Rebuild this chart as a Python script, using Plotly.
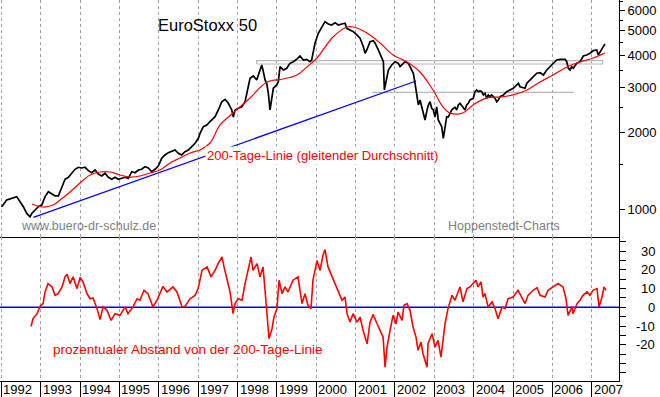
import plotly.graph_objects as go
import pandas as pd
import numpy as np

# ---------------- data (decimal years, index points / percent) ----------------
price_t = [1992.009, 1992.136, 1992.263, 1992.390, 1992.474, 1992.558, 1992.644, 1992.728,
           1992.771, 1992.855, 1992.939, 1993.025, 1993.109, 1993.193, 1993.279, 1993.363,
           1993.447, 1993.534, 1993.617, 1993.701, 1993.788, 1993.871, 1993.955, 1994.042,
           1994.126, 1994.209, 1994.296, 1994.380, 1994.463, 1994.550, 1994.634, 1994.718,
           1994.804, 1994.888, 1994.972, 1995.058, 1995.142, 1995.226, 1995.312, 1995.396,
           1995.480, 1995.566, 1995.650, 1995.734, 1995.820, 1995.904, 1995.988, 1996.074,
           1996.158, 1996.242, 1996.328, 1996.412, 1996.496, 1996.582, 1996.666, 1996.750,
           1996.836, 1996.920, 1997.004,
           1997.047, 1997.131, 1997.218, 1997.301, 1997.428, 1997.512, 1997.599, 1997.683,
           1997.766, 1997.810, 1997.853, 1997.893, 1997.937, 1998.020, 1998.107, 1998.191,
           1998.274, 1998.318, 1998.402, 1998.488, 1998.572, 1998.615, 1998.656, 1998.699,
           1998.742, 1998.783, 1998.826, 1998.869, 1998.910, 1998.996, 1999.037, 1999.080,
           1999.164, 1999.250, 1999.334, 1999.418, 1999.504, 1999.588, 1999.672, 1999.758,
           1999.842, 1999.885, 1999.926, 1999.969, 2000.053, 2000.139, 2000.223, 2000.307,
           2000.393, 2000.477, 2000.561, 2000.648, 2000.731, 2000.775, 2000.858, 2000.942,
           2001.029, 2001.112, 2001.196, 2001.240, 2001.283, 2001.323, 2001.367, 2001.450,
           2001.494, 2001.577, 2001.664, 2001.705, 2001.730, 2001.773, 2001.832, 2001.918,
           2002.002, 2002.086,
           2002.129, 2002.213, 2002.256, 2002.340, 2002.383, 2002.467, 2002.510, 2002.553,
           2002.594, 2002.637, 2002.680, 2002.720, 2002.764, 2002.807, 2002.848, 2002.891,
           2002.934, 2002.975, 2003.018, 2003.061, 2003.101, 2003.145, 2003.188, 2003.229,
           2003.272, 2003.315, 2003.356, 2003.399, 2003.442, 2003.483, 2003.526, 2003.569,
           2003.610, 2003.653, 2003.696, 2003.737, 2003.780, 2003.823, 2003.864, 2003.907,
           2003.991, 2004.034, 2004.077, 2004.118, 2004.161, 2004.204, 2004.245, 2004.288,
           2004.331, 2004.372, 2004.415, 2004.458, 2004.542, 2004.585, 2004.626, 2004.669,
           2004.753, 2004.839, 2004.923, 2005.007, 2005.094, 2005.134, 2005.177, 2005.261,
           2005.305, 2005.348, 2005.432, 2005.516, 2005.602, 2005.686, 2005.770, 2005.856,
           2005.940, 2006.024, 2006.110, 2006.194, 2006.321, 2006.364, 2006.405, 2006.448,
           2006.491, 2006.532, 2006.618, 2006.702, 2006.786, 2006.872, 2006.956, 2007.040,
           2007.126, 2007.166, 2007.210, 2007.294, 2007.337]
price_v = [1024, 1087, 1104, 1121, 1071, 1024, 964, 935,
           964, 994, 1024, 1039, 1121, 1172, 1148, 1128,
           1128, 1209, 1311, 1335, 1391, 1435, 1461, 1452,
           1461, 1417, 1391, 1426, 1375, 1351, 1384, 1335,
           1311, 1335, 1311, 1322, 1335, 1322, 1404, 1391,
           1426, 1435, 1469, 1452, 1404, 1435, 1478, 1584,
           1633, 1667, 1682, 1708, 1658, 1633, 1682, 1708,
           1760, 1814, 1898,
           1985, 2107, 2140, 2204, 2306, 2450, 2640, 2698,
           2603, 2523, 2450, 2298, 2450, 2487, 2523, 2640,
           3023, 3261, 3329, 3212, 3515, 3677, 3461, 3212,
           3117, 2848, 2450, 2762, 2980, 3070, 3162, 3622,
           3515, 3569, 3733, 3788, 3870, 3988, 3846, 3870,
           3788, 3846, 4210, 4474, 4895, 5194, 5435, 5323,
           5275, 5386, 5275, 5323, 5356, 5119, 5043, 4966,
           4820, 4679, 4337, 4087, 4210, 4337, 4537, 4579,
           4474, 4210, 3906, 3788, 2935, 3212, 3515, 3677,
           3788, 3733,
           3622, 3733, 3788, 3733, 3622, 3412, 3117, 2762,
           2563, 2682, 2523, 2378, 2239, 2413, 2563, 2640,
           2487, 2450, 2298, 2523, 2239, 2173, 2107, 1898,
           2107, 2306, 2298, 2378, 2450, 2487, 2510, 2450,
           2563, 2603, 2540, 2487, 2450, 2563, 2603, 2682,
           2722, 2889, 2935, 2889, 2916, 2889, 2806, 2848,
           2722, 2806, 2762, 2806, 2722, 2640, 2682, 2762,
           2806, 2889, 2935, 2980, 3070, 3117, 3023, 2980,
           2980, 3117, 3212, 3308, 3412, 3430, 3359, 3515,
           3622, 3733, 3846, 3870, 3870, 3788, 3569, 3515,
           3622, 3569, 3733, 3788, 3988, 4024, 4087, 4184,
           4210, 4024, 4146, 4337, 4445]

ma_t = [1992.779, 1993.058, 1993.313, 1993.490, 1993.744, 1993.999, 1994.253, 1994.507,
        1994.761, 1995.015, 1995.269, 1995.523, 1995.777, 1996.031, 1996.285, 1996.539,
        1996.793, 1997.047, 1997.301, 1997.556, 1997.886, 1998.318, 1998.750, 1999.156,
        1999.512, 1999.766, 2000.020, 2000.426, 2000.782, 2000.935, 2001.290, 2001.621,
        2001.951, 2002.307, 2002.637, 2002.967, 2003.221, 2003.399, 2003.729, 2003.983,
        2004.339, 2004.669, 2005.000, 2005.355, 2005.686, 2006.016, 2006.372, 2006.702,
        2007.032, 2007.337]
ma_v = [1049, 1021, 1039, 1087, 1169, 1268, 1363, 1400,
        1400, 1363, 1338, 1351, 1388, 1426, 1519, 1589,
        1663, 1708, 1819, 2140, 2385, 2731, 3154, 3241,
        3359, 3611, 3917, 4735, 5181, 5181, 4908, 4485,
        4024, 3778, 3451, 2935, 2518, 2385, 2385, 2563,
        2731, 2755, 2806, 2935, 3154, 3359, 3611, 3778,
        3917, 4097]

dev_t = [1992.754, 1992.804, 1992.906, 1992.982, 1993.058, 1993.109, 1993.185, 1993.287,
         1993.363, 1993.440, 1993.541, 1993.617, 1993.668, 1993.744, 1993.821, 1993.922,
         1993.999, 1994.075, 1994.176, 1994.253, 1994.329, 1994.430, 1994.507, 1994.583,
         1994.685, 1994.786, 1994.888, 1995.015, 1995.142, 1995.218, 1995.345, 1995.447,
         1995.523, 1995.625, 1995.726, 1995.853, 1995.955, 1996.031, 1996.107, 1996.209,
         1996.361, 1996.463, 1996.590, 1996.666, 1996.793, 1996.920, 1996.997, 1997.098,
         1997.225, 1997.327, 1997.428, 1997.505, 1997.606, 1997.657, 1997.733, 1997.810,
         1997.886, 1997.937, 1998.013, 1998.114, 1998.191, 1998.267, 1998.343, 1998.394,
         1998.496, 1998.572, 1998.648, 1998.699, 1998.750, 1998.800, 1998.877, 1998.927,
         1999.004, 1999.055, 1999.131, 1999.207, 1999.283, 1999.410, 1999.537, 1999.639,
         1999.715, 1999.791, 1999.868, 1999.918, 2000.020, 2000.096, 2000.172, 2000.223,
         2000.299, 2000.401, 2000.477, 2000.554, 2000.655, 2000.731, 2000.782, 2000.858,
         2000.935, 2001.036, 2001.112, 2001.189, 2001.290, 2001.367, 2001.443, 2001.544,
         2001.621, 2001.697, 2001.748, 2001.798, 2001.875, 2001.951, 2002.027, 2002.078,
         2002.180, 2002.230, 2002.307, 2002.383, 2002.459, 2002.535, 2002.586, 2002.662,
         2002.713, 2002.764, 2002.815, 2002.840, 2002.942, 2003.018, 2003.094, 2003.170,
         2003.221, 2003.272, 2003.323, 2003.348, 2003.450, 2003.526, 2003.653, 2003.729,
         2003.831, 2003.907, 2003.983, 2004.060, 2004.110, 2004.187, 2004.238, 2004.288,
         2004.365, 2004.466, 2004.542, 2004.619, 2004.720, 2004.796, 2004.873, 2005.000,
         2005.127, 2005.228, 2005.305, 2005.381, 2005.508, 2005.610, 2005.686, 2005.813,
         2005.889, 2006.016, 2006.143, 2006.270, 2006.346, 2006.397, 2006.499, 2006.524,
         2006.626, 2006.702, 2006.778, 2006.880, 2006.956, 2007.032, 2007.134, 2007.185,
         2007.261, 2007.312, 2007.363]
dev_v = [-10.2, -6, -3.4, 0.5, 2, 8.2, 12.7, 10.9,
         6.4, 7.3, 10.9, 16.3, 17.7, 12.7, 16.3, 10,
         15.9, 13.6, 7.3, 4.6, 5, -0.7, -6.6, 0.2,
         -1.6, -7, -3.4, -4.3, 0.2, -3.4, 0.2, 4.6,
         3.8, 9.1, 7.3, 0.2, 3.8, 7.3, 11.2, 8.2,
         10.9, 8.2, 0.2, 0.5, 4.6, 6.4, 10, 19.8,
         21.6, 16.3, 19.8, 23.4, 27, 21.6, 14.5, 8.2,
         -3.4, 2, 4.6, 3.8, 12.7, 20.7, 27, 19.8,
         23.4, 16.3, 21.6, 9.1, -3.4, -16.8, -11.4, -5.2,
         -0.7, 14.5, 7.3, 10.9, 8.2, 14.5, 16.3, 2,
         7.3, 1.1, -0.7, 14.5, 25, 19.8, 27.9, 30.9,
         21.6, 16.3, 12.7, 9.1, 3.8, 5.5, -3.4, -7.9,
         -3.4, -7.9, -5.2, -12.3, -19.5, -7.9, -3.8, -8.8,
         -12.3, -15.9, -32, -21.3, -12.3, -4.3, -8.8, -2.5,
         -7, 1.1, 2, -1.6, -10.5, -15.9, -23, -18.6,
         -24.8, -28.4, -32, -19.5, -14.1, -21.3, -17.7, -26.6,
         -15.9, -8.8, -3.4, -0.7, 6.4, 3.8, 10.9, 2.9,
         10, 10.9, 12.7, 14.5, 10.9, 13.6, 5.5, 7.3,
         0.2, 2.9, -0.7, -6.1, 0.2, -0.7, 4.6, 5.5,
         9.1, 4.6, 2, 6.4, 9.1, 10.5, 6.4, 5.5,
         9.1, 10.9, 12.7, 10.9, 4.6, -4.3, 0.2, -3.4,
         2, 3.8, 6.4, 8.2, 6.4, 9.1, 10, 0.2,
         5.5, 10.9, 9.1]

trend_t = [1992.812, 2002.535]
trend_v = [930, 3182]
band_t = [1998.488, 2007.278]
band_v = [3710, 3822]
support_t = [2001.425, 2006.550]
support_v = [2873, 2873]

years = list(range(1992, 2008))
year_labels = [str(y) for y in years]
price_ticks = [1000, 2000, 3000, 4000, 5000, 6000]
price_minor = [1500, 2500, 3500, 4500, 5500, 6500]
dev_ticks = [-30, -20, -10, 0, 10, 20, 30]
dev_minor = [-35, -25, -15, -5, 5, 15, 25, 35]
dev_labels = {30: "30", 20: "20", 10: "10", 0: "0", -10: "-10", -20: "-20"}


def to_date(y):
    yr = int(np.floor(y))
    s = pd.Timestamp(yr, 1, 1)
    e = pd.Timestamp(yr + 1, 1, 1)
    return s + (e - s) * (y - yr)


def dates(ts):
    return [to_date(t) for t in ts]


FONT = "Liberation Sans, Arial, sans-serif"
W, H = 660, 397
ML, MR, MT, MB = 0, 41, 0, 16
PW = W - ML - MR
PH = H - MT - MB
split = 144 / PH

fig = go.Figure()

# top panel
fig.add_trace(go.Scatter(x=dates(band_t + band_t[::-1] + band_t[:1]),
                         y=[band_v[0], band_v[0], band_v[1], band_v[1], band_v[0]],
                         mode="lines", line=dict(color="#b8b8b8", width=1.2),
                         xaxis="x", yaxis="y", hoverinfo="skip"))
fig.add_trace(go.Scatter(x=dates(support_t), y=support_v, mode="lines",
                         line=dict(color="#b8b8b8", width=1.2), xaxis="x", yaxis="y"))
fig.add_trace(go.Scatter(x=dates(trend_t), y=trend_v, mode="lines",
                         line=dict(color="#0000ff", width=1.2), xaxis="x", yaxis="y"))
fig.add_trace(go.Scatter(x=dates(price_t), y=price_v, mode="lines",
                         line=dict(color="#000000", width=1.7), xaxis="x", yaxis="y"))
fig.add_trace(go.Scatter(x=dates(ma_t), y=ma_v, mode="lines", line_shape="spline",
                         line=dict(color="#ff0000", width=1.2), xaxis="x", yaxis="y"))

# bottom panel
fig.add_trace(go.Scatter(x=[to_date(1991.9), to_date(2007.8)], y=[0, 0], mode="lines",
                         line=dict(color="#0000ff", width=1.6), xaxis="x2", yaxis="y2"))
fig.add_trace(go.Scatter(x=dates(dev_t), y=dev_v, mode="lines",
                         line=dict(color="#ff0000", width=1.6), xaxis="x2", yaxis="y2"))

xr = [to_date(1991.966), to_date(2007.693)]
ytick_dates = [pd.Timestamp(y, 1, 1) for y in years]

common_x = dict(type="date", range=xr, tickmode="array", tickvals=ytick_dates,
                showgrid=True, gridcolor="#a0a0a0", griddash="3px,3px", gridwidth=1,
                zeroline=False, showline=True, linecolor="#000000", linewidth=1,
                automargin=False, fixedrange=True)

fig.update_layout(
    width=W, height=H,
    margin=dict(l=ML, r=MR, t=MT, b=MB, pad=0),
    paper_bgcolor="white", plot_bgcolor="white",
    showlegend=False, hovermode=False,
    font=dict(family=FONT, size=13, color="#000000"),
    xaxis=dict(common_x, anchor="y", domain=[0, 1], showticklabels=False, ticks=""),
    xaxis2=dict(common_x, anchor="y2", domain=[0, 1], showticklabels=False,
                ticks="outside", ticklen=16, tickcolor="#000000", tickwidth=1),
    yaxis=dict(type="log", domain=[split, 1],
               range=[np.log10(779), np.log10(6608)],
               side="right", anchor="x", tickmode="array", tickvals=price_ticks,
               ticktext=[str(v) for v in price_ticks],
               ticks="outside", ticklen=5, tickcolor="#000000",
               minor=dict(tickmode="array", tickvals=price_minor, ticks="outside",
                          ticklen=3, tickcolor="#000000", showgrid=False),
               showline=True, linecolor="#000000", linewidth=1,
               showgrid=False, zeroline=False, automargin=False, fixedrange=True,
               tickfont=dict(family=FONT, size=13, color="#000000")),
    yaxis2=dict(domain=[0, split], range=[-39.4, 37.6], side="right", anchor="x2",
                tickmode="array", tickvals=dev_ticks, showticklabels=False,
                ticks="outside", ticklen=6, tickcolor="#000000",
                minor=dict(tickmode="array", tickvals=dev_minor, ticks="outside",
                           ticklen=6, tickcolor="#000000", showgrid=False),
                showline=True, linecolor="#000000", linewidth=1,
                showgrid=False, zeroline=False, automargin=False, fixedrange=True),
)

ann = []
# year labels, left aligned next to tick
for d, lab in zip(ytick_dates, year_labels):
    ann.append(dict(x=d, xref="x2", y=-8 / PH, yref="paper", text=lab, showarrow=False,
                    xanchor="left", yanchor="middle", xshift=0,
                    font=dict(family=FONT, size=13, color="#000000")))
# percent labels, right aligned
for v, lab in dev_labels.items():
    ann.append(dict(x=(657 - ML) / PW, xref="paper", y=v, yref="y2", text=lab,
                    showarrow=False, xanchor="right", yanchor="middle",
                    font=dict(family=FONT, size=13, color="#000000")))


def px_x(px):
    return (px - ML) / PW


def px_y(py):
    return 1 - (py - MT) / PH


ann += [
    dict(x=px_x(156), y=px_y(25.5), xref="paper", yref="paper", text="EuroStoxx 50",
         showarrow=False, xanchor="left", yanchor="middle",
         font=dict(family=FONT, size=16.5, color="#000000")),
    dict(x=px_x(205), y=px_y(155), xref="paper", yref="paper",
         text="200-Tage-Linie (gleitender Durchschnitt)", showarrow=False,
         xanchor="left", yanchor="middle", bgcolor="white", borderpad=1,
         font=dict(family=FONT, size=13, color="#ff0000")),
    dict(x=px_x(19), y=px_y(225.5), xref="paper", yref="paper",
         text="www.buero-dr-schulz.de", showarrow=False, xanchor="left", yanchor="middle",
         font=dict(family=FONT, size=12.5, color="#808080")),
    dict(x=px_x(446), y=px_y(225.5), xref="paper", yref="paper",
         text="Hoppenstedt-Charts", showarrow=False, xanchor="left", yanchor="middle",
         font=dict(family=FONT, size=12.5, color="#808080")),
    dict(x=px_x(51), y=px_y(349), xref="paper", yref="paper",
         text="prozentualer Abstand von der 200-Tage-Linie", showarrow=False,
         xanchor="left", yanchor="middle",
         font=dict(family=FONT, size=13.5, color="#ff0000")),
]
fig.update_layout(annotations=ann)

fig.write_html("out.html", config={"displayModeBar": False, "staticPlot": True},
               post_script="document.body.style.margin='0';document.body.style.overflow='hidden';")
